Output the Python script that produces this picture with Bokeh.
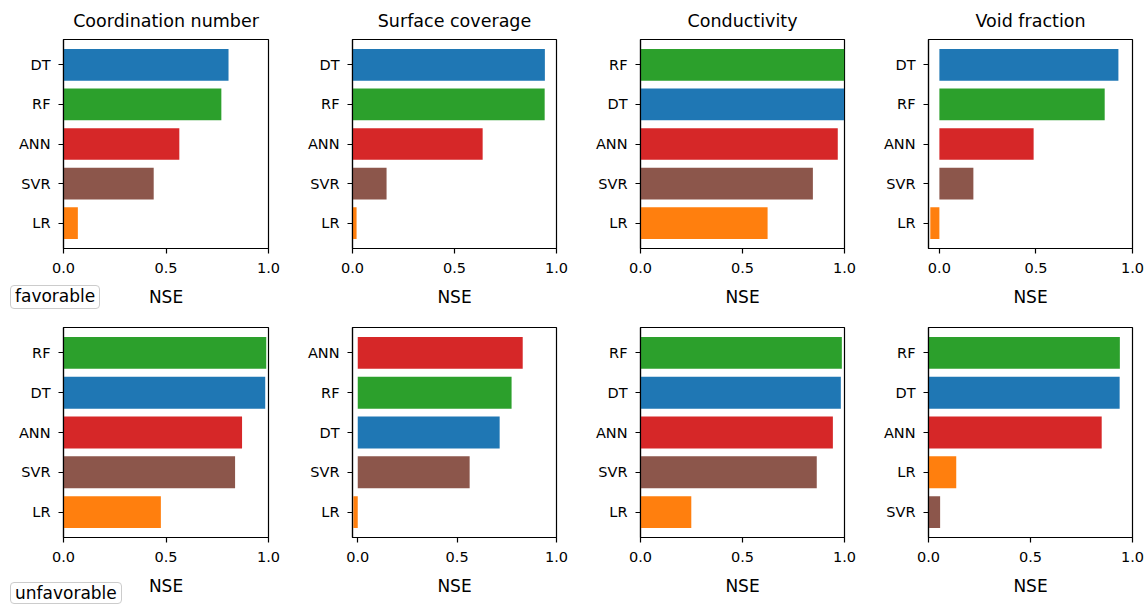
from bokeh.plotting import figure
from bokeh.layouts import column, row
from bokeh.models import Range1d, FixedTicker, ColumnDataSource, PrintfTickFormatter, Div
from bokeh.embed import file_html
from bokeh.resources import INLINE

# ---------------- data ----------------
titles = ["Coordination number", "Surface coverage", "Conductivity", "Void fraction"]
conditions = ["favorable", "unfavorable"]

# models listed top -> bottom as they appear in each panel
fav_models = [
    ["DT", "RF", "ANN", "SVR", "LR"],
    ["DT", "RF", "ANN", "SVR", "LR"],
    ["RF", "DT", "ANN", "SVR", "LR"],
    ["DT", "RF", "ANN", "SVR", "LR"],
]
fav_nse = [
    [0.805, 0.770, 0.565, 0.440, 0.070],
    [0.943, 0.942, 0.638, 0.167, 0.020],
    [0.999, 0.998, 0.967, 0.845, 0.623],
    [0.927, 0.856, 0.488, 0.176, -0.047],
]
unfav_models = [
    ["RF", "DT", "ANN", "SVR", "LR"],
    ["ANN", "RF", "DT", "SVR", "LR"],
    ["RF", "DT", "ANN", "SVR", "LR"],
    ["RF", "DT", "ANN", "LR", "SVR"],
]
unfav_nse = [
    [0.989, 0.984, 0.871, 0.837, 0.475],
    [0.830, 0.774, 0.714, 0.563, -0.022],
    [0.987, 0.982, 0.943, 0.864, 0.249],
    [0.938, 0.937, 0.849, 0.136, 0.057],
]

model_colors = {"DT": "#1f77b4", "RF": "#2ca02c", "ANN": "#d62728",
                "SVR": "#8c564b", "LR": "#ff7f0e"}
x_ticks = [0.0, 0.5, 1.0]

# ---------------- layout / style ----------------
FONT = "DejaVu Sans"
col_widths = [297, 288, 288, 272]
left_borders = [63, 55, 55, 55]
right_borders = [29, 29, 29, 13]
row_specs = [  # (height, top border, bottom border)
    (309, 39, 61),
    (295, 18, 67),
]


def make_panel(r, c, models, vals):
    h, bt, bb = row_specs[r]
    n = len(models)
    xmin = min(0.0, min(vals) * 1.2)
    p = figure(
        width=col_widths[c], height=h,
        x_range=Range1d(xmin, 1.0),
        y_range=Range1d(n - 1 + 0.64, -0.64),
        title=titles[c] if r == 0 else None,
        toolbar_location=None, tools="",
        output_backend="svg",
        min_border_left=left_borders[c], min_border_right=right_borders[c],
        min_border_top=bt, min_border_bottom=bb,
        background_fill_color="white", border_fill_color="white",
    )
    src = ColumnDataSource(dict(
        y=list(range(n)), right=vals, model=models,
        color=[model_colors[m] for m in models],
    ))
    p.hbar(y="y", left=0, right="right", height=0.8, color="color",
           line_color=None, source=src)

    p.xgrid.visible = False
    p.ygrid.visible = False
    p.outline_line_color = "black"
    p.outline_line_width = 1.2
    p.outline_line_alpha = 1.0

    for ax in (p.xaxis[0], p.yaxis[0]):
        ax.axis_line_color = "black"
        ax.axis_line_width = 1.2
        ax.major_tick_line_color = "black"
        ax.major_tick_line_width = 1.2
        ax.major_tick_in = 0
        ax.major_tick_out = 5
        ax.minor_tick_line_color = None
        ax.major_label_text_font = FONT
        ax.major_label_text_font_size = "14.5px"
        ax.major_label_text_color = "black"

    p.xaxis.ticker = FixedTicker(ticks=x_ticks)
    p.xaxis.formatter = PrintfTickFormatter(format="%.1f")
    p.xaxis.major_label_standoff = 9
    p.xaxis.axis_label = "NSE"
    p.xaxis.axis_label_text_font = FONT
    p.xaxis.axis_label_text_font_size = "17px"
    p.xaxis.axis_label_text_font_style = "normal"
    p.xaxis.axis_label_text_color = "black"
    p.xaxis.axis_label_standoff = 11

    p.yaxis.ticker = FixedTicker(ticks=list(range(n)))
    p.yaxis.major_label_overrides = {i: m for i, m in enumerate(models)}
    p.yaxis.major_label_standoff = 8

    if r == 0:
        p.title.align = "center"
        p.title.text_font = FONT
        p.title.text_font_size = "17.5px"
        p.title.text_font_style = "normal"
        p.title.text_color = "black"
        p.title.standoff = 17
    return p


def tag(text, box_h):
    html = (
        '<div style="font-family:\'DejaVu Sans\'; font-size:17px; line-height:17px;'
        ' color:black; background:white; border:1.5px solid #cccccc;'
        ' border-radius:4px; padding:2px 4px; display:inline-block;'
        f' white-space:nowrap; box-sizing:border-box; height:{box_h}px;">{text}</div>'
    )
    return Div(text=html, width=140, height=box_h,
               margin=(-box_h, 0, 0, 10),
               styles={"position": "relative", "z-index": "5"})


rows = []
for r, (mods, vals) in enumerate([(fav_models, fav_nse), (unfav_models, unfav_nse)]):
    rows.append(row(*[make_panel(r, c, mods[c], vals[c]) for c in range(4)], spacing=0))

layout = column(rows[0], tag(conditions[0], 24), rows[1], tag(conditions[1], 22), spacing=0)

open("out.html", "w").write(file_html(layout, INLINE))
